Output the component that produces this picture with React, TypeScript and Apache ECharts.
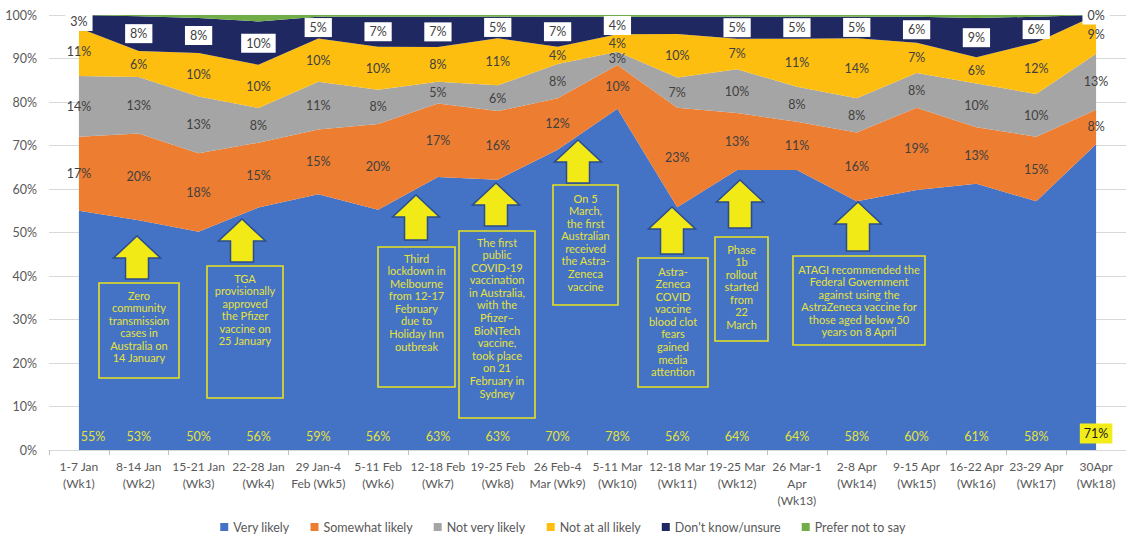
import React, { useEffect, useRef } from "react";
import * as echarts from "echarts";

const categories = [
  "1-7 Jan\n(Wk1)",
  "8-14 Jan\n(Wk2)",
  "15-21 Jan\n(Wk3)",
  "22-28 Jan\n(Wk4)",
  "29 Jan-4\nFeb (Wk5)",
  "5-11 Feb\n(Wk6)",
  "12-18 Feb\n(Wk7)",
  "19-25 Feb\n(Wk8)",
  "26 Feb-4\nMar (Wk9)",
  "5-11 Mar\n(Wk10)",
  "12-18 Mar\n(Wk11)",
  "19-25 Mar\n(Wk12)",
  "26 Mar-1\nApr\n(Wk13)",
  "2-8 Apr\n(Wk14)",
  "9-15 Apr\n(Wk15)",
  "16-22 Apr\n(Wk16)",
  "23-29 Apr\n(Wk17)",
  "30Apr\n(Wk18)",
];

const veryLikely = [55, 53, 50, 56, 59, 56, 63, 63, 70, 78, 56, 64, 64, 58, 60, 61, 58, 71];
const somewhatLikely = [17, 20, 18, 15, 15, 20, 17, 16, 12, 10, 23, 13, 11, 16, 19, 13, 15, 8];
const notVeryLikely = [14, 13, 13, 8, 11, 8, 5, 6, 8, 3, 7, 10, 8, 8, 8, 10, 10, 13];
const notAtAllLikely = [11, 6, 10, 10, 10, 10, 8, 11, 4, 4, 10, 7, 11, 14, 7, 6, 12, 9];
const dontKnow = [3, 8, 8, 10, 5, 7, 7, 5, 7, 4, 4, 5, 5, 5, 6, 9, 6, 0];
const preferNot = [0, 0.3, 0.7, 1.5, 0.4, 0.4, 0.4, 0.4, 0.4, 0.4, 0.4, 0.4, 0.4, 0.4, 0.4, 0.7, 0.4, 0];
// data labels that the reference does not show (Don't know, Wk11)
const dontKnowHiddenLabels = [10];

const yTicks = [0, 10, 20, 30, 40, 50, 60, 70, 80, 90, 100];

const seriesDefs = [
  { name: "Very likely", data: veryLikely, color: "#4472C4" },
  { name: "Somewhat likely", data: somewhatLikely, color: "#ED7D31" },
  { name: "Not very likely", data: notVeryLikely, color: "#A5A5A5" },
  { name: "Not at all likely", data: notAtAllLikely, color: "#FDBE10" },
  { name: "Don't know/unsure", data: dontKnow, color: "#1F2860" },
  { name: "Prefer not to say", data: preferNot, color: "#70AD47" },
];

// Annotation layout (pixels): arrow tip, arrow bottom, box, first text line centre
const annotations = [
  { ax: 137, tip: 236, bottom: 279, box: [99, 283, 179, 378], ty: 295,
    text: "Zero\ncommunity\ntransmission\ncases in\nAustralia on\n14 January" },
  { ax: 242, tip: 219, bottom: 262, box: [207, 266, 283, 398], ty: 278,
    text: "TGA\nprovisionally\napproved\nthe Pfizer\nvaccine on\n25 January" },
  { ax: 416, tip: 195, bottom: 240, box: [378, 247, 455, 387], ty: 258,
    text: "Third\nlockdown in\nMelbourne\nfrom 12-17\nFebruary\ndue to\nHoliday Inn\noutbreak" },
  { ax: 496, tip: 183, bottom: 226, box: [459, 231, 535, 418], ty: 242,
    text: "The first\npublic\nCOVID-19\nvaccination\nin Australia,\nwith the\nPfizer–\nBioNTech\nvaccine,\ntook place\non 21\nFebruary in\nSydney" },
  { ax: 578, tip: 140, bottom: 183, box: [553, 185, 618, 305], ty: 198,
    text: "On 5\nMarch,\nthe first\nAustralian\nreceived\nthe Astra-\nZeneca\nvaccine" },
  { ax: 672, tip: 207, bottom: 254, box: [638, 258, 708, 387], ty: 271,
    text: "Astra-\nZeneca\nCOVID\nvaccine\nblood clot\nfears\ngained\nmedia\nattention" },
  { ax: 740, tip: 180, bottom: 228, box: [715, 237, 768, 341], ty: 249,
    text: "Phase\n1b\nrollout\nstarted\nfrom\n22\nMarch" },
  { ax: 858, tip: 202, bottom: 251, box: [793, 256, 925, 345], ty: 269,
    text: "ATAGI recommended the\nFederal Government\nagainst using the\nAstraZeneca vaccine for\nthose aged below 50\nyears on 8 April" },
];

const FONT = "Lato, 'Open Sans', 'Liberation Sans', sans-serif";

export default function App() {
  const ref = useRef<HTMLDivElement>(null);

  useEffect(() => {
    if (!ref.current) return;
    const chart = echarts.init(ref.current, undefined, { renderer: "svg" });

    const totals = categories.map((_, i) =>
      seriesDefs.reduce((s, d) => s + d.data[i], 0)
    );
    const shares = seriesDefs.map((d) => d.data.map((v, i) => (v / totals[i]) * 100));
    const cumBefore = seriesDefs.map((_, k) =>
      categories.map((__, i) => {
        let s = 0;
        for (let j = 0; j < k; j++) s += shares[j][i];
        return s;
      })
    );

    const areaSeries = seriesDefs.map((d, k) => ({
      type: "line",
      name: d.name,
      stack: "total",
      data: shares[k],
      symbol: "none",
      showSymbol: false,
      lineStyle: { width: 0, color: d.color },
      itemStyle: { color: d.color },
      areaStyle: { color: d.color, opacity: 1 },
      z: 1,
      silent: true,
    }));

    const labelSeries: any[] = [];
    // Very likely labels near the bottom
    labelSeries.push({
      type: "scatter",
      name: "_vl",
      symbolSize: 1,
      clip: false,
      itemStyle: { color: "rgba(0,0,0,0)" },
      silent: true,
      z: 5,
      data: veryLikely.map((v, i) => {
        const last = i === veryLikely.length - 1;
        const first = i === 0;
        return {
          value: [i, last ? 3.8 : 3],
          label: last
            ? {
                show: true,
                formatter: v + "%",
                color: "#1a1a1a",
                backgroundColor: "#F2EC18",
                padding: [4, 4, 3, 4],
              }
            : { show: true, formatter: v + "%", offset: first ? [14, 0] : [0, 0] },
        };
      }),
      label: {
        show: true,
        position: "inside",
        color: "#E4E33A",
        fontSize: 12.5,
        fontFamily: FONT,
        opacity: 1,
      },
    });
    for (let k = 1; k <= 4; k++) {
      const isDK = k === 4;
      labelSeries.push({
        type: "scatter",
        name: "_lbl" + k,
        symbolSize: 1,
        clip: false,
        itemStyle: { color: "rgba(0,0,0,0)" },
        silent: true,
        z: 5,
        data: seriesDefs[k].data
          .map((v, i) => ({
            value: [i, cumBefore[k][i] + shares[k][i] / 2],
            label: { show: true, formatter: v + "%" },
            idx: i,
          }))
          .filter((p) => !(isDK && dontKnowHiddenLabels.includes(p.idx)))
          .map((p) => ({ value: p.value, label: p.label })),
        label: isDK
          ? {
              show: true,
              position: "inside",
              color: "#404040",
              fontSize: 12.5,
              fontFamily: FONT,
              backgroundColor: "#FFFFFF",
              padding: [3, 5, 3, 5],
              opacity: 1,
            }
          : {
              show: true,
              position: "inside",
              color: "#404040",
              fontSize: 12.5,
              fontFamily: FONT,
              opacity: 1,
            },
      });
    }

    const graphics: any[] = [];
    annotations.forEach((a) => {
      const hw = 23.5;
      const sw = 11.5;
      const hb = a.tip + 22;
      graphics.push({
        type: "polygon",
        shape: {
          points: [
            [a.ax, a.tip],
            [a.ax + hw, hb],
            [a.ax + sw, hb],
            [a.ax + sw, a.bottom],
            [a.ax - sw, a.bottom],
            [a.ax - sw, hb],
            [a.ax - hw, hb],
          ],
        },
        style: { fill: "#F2EA17", stroke: "#2C4C8A", lineWidth: 1.5 },
        z: 10,
        silent: true,
      });
      graphics.push({
        type: "rect",
        shape: {
          x: a.box[0],
          y: a.box[1],
          width: a.box[2] - a.box[0],
          height: a.box[3] - a.box[1],
        },
        style: { fill: "none", stroke: "#E9E21E", lineWidth: 1.6 },
        z: 10,
        silent: true,
      });
      graphics.push({
        type: "text",
        x: (a.box[0] + a.box[2]) / 2,
        y: a.ty - 6.3,
        style: {
          text: a.text,
          fill: "#E6E33C",
          fontSize: 11,
          fontFamily: FONT,
          align: "center",
          textAlign: "center",
          verticalAlign: "top",
          textVerticalAlign: "top",
          lineHeight: 12.6,
        },
        z: 11,
        silent: true,
      });
    });

    chart.setOption({
      animation: false,
      textStyle: { fontFamily: FONT },
      grid: { left: 49, right: -3, top: 15, bottom: 85, containLabel: false },
      legend: {
        data: seriesDefs.map((d) => d.name),
        left: "center",
        top: 520,
        padding: 0,
        itemWidth: 8,
        itemHeight: 8,
        itemGap: 21,
        icon: "rect",
        textStyle: { color: "#595959", fontSize: 12.5, fontFamily: FONT, lineHeight: 14 },
      },
      xAxis: {
        type: "category",
        data: categories,
        boundaryGap: true,
        axisLine: { show: true, lineStyle: { color: "#D9D9D9", width: 1 } },
        axisTick: { show: true, alignWithLabel: false, interval: 0, length: 5, lineStyle: { color: "#BFBFBF" } },
        axisLabel: {
          interval: 0,
          color: "#595959",
          fontSize: 12,
          fontFamily: FONT,
          lineHeight: 17,
          margin: 8,
        },
      },
      yAxis: {
        type: "value",
        min: yTicks[0],
        max: yTicks[yTicks.length - 1],
        interval: yTicks[1] - yTicks[0],
        axisLine: { show: false },
        axisTick: { show: false },
        splitLine: { show: true, lineStyle: { color: "#D9D9D9", width: 1 } },
        axisLabel: {
          formatter: "{value}%",
          color: "#595959",
          fontSize: 12.5,
          fontFamily: FONT,
          margin: 12,
        },
      },
      series: [...areaSeries, ...labelSeries],
      graphic: graphics,
    });

    return () => chart.dispose();
  }, []);

  return (
    <div
      ref={ref}
      style={{ position: "absolute", left: 0, top: 0, width: 1126, height: 535 }}
    />
  );
}
